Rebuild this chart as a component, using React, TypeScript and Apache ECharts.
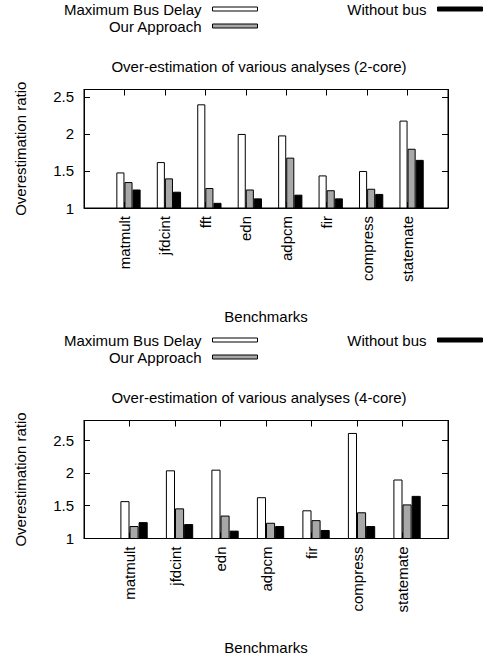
import React, { useEffect, useRef } from 'react';
import * as echarts from 'echarts';

// ---- data ----
const categories2core = ['matmult', 'jfdcint', 'fft', 'edn', 'adpcm', 'fir', 'compress', 'statemate'];
const maxBusDelay2core = [1.48, 1.62, 2.40, 2.00, 1.98, 1.44, 1.50, 2.18];
const ourApproach2core = [1.35, 1.40, 1.27, 1.25, 1.68, 1.24, 1.26, 1.80];
const withoutBus2core = [1.25, 1.22, 1.07, 1.13, 1.18, 1.13, 1.19, 1.65];

const categories4core = ['matmult', 'jfdcint', 'edn', 'adpcm', 'fir', 'compress', 'statemate'];
const maxBusDelay4core = [1.57, 2.04, 2.05, 1.63, 1.43, 2.61, 1.90];
const ourApproach4core = [1.19, 1.46, 1.35, 1.24, 1.28, 1.40, 1.52];
const withoutBus4core = [1.25, 1.22, 1.12, 1.19, 1.13, 1.19, 1.65];

const yTicks = [1, 1.5, 2, 2.5];

const seriesNames = ['Maximum Bus Delay', 'Our Approach', 'Without bus'];
const seriesColors = ['#ffffff', '#a8a8a8', '#000000'];

const titles = [
  'Over-estimation of various analyses (2-core)',
  'Over-estimation of various analyses (4-core)',
];

const FONT = '"Liberation Sans", Arial, Helvetica, sans-serif';
const W = 487;
const H = 658;

function pad<T>(arr: T[], v: any): any[] {
  return [v, ...arr, v];
}

function buildOption() {
  const panels = [
    { cats: categories2core, vals: [maxBusDelay2core, ourApproach2core, withoutBus2core], yMax: 2.6, top: 89.5, height: 118.5, off: 0 },
    { cats: categories4core, vals: [maxBusDelay4core, ourApproach4core, withoutBus4core], yMax: 2.8, top: 420.5, height: 118, off: 331 },
  ];

  const grid: any[] = [];
  const xAxis: any[] = [];
  const yAxis: any[] = [];
  const series: any[] = [];
  const legend: any[] = [];
  const title: any[] = [];

  const txt = { color: '#000', fontSize: 15, fontFamily: FONT };
  const tick = { show: true, inside: true, length: 6, lineStyle: { color: '#000', width: 1 } };
  const line = { show: true, lineStyle: { color: '#000', width: 1 } };
  const yFmt = (v: number) => (yTicks.some((t) => Math.abs(t - v) < 1e-9) ? String(v) : '');

  panels.forEach((p, i) => {
    grid.push({ left: 84, top: p.top, width: 364, height: p.height, show: true, borderColor: '#000', borderWidth: 1, backgroundColor: 'transparent' });
    const data = pad(p.cats, '');
    xAxis.push({
      type: 'category', gridIndex: i, position: 'bottom', data, boundaryGap: false,
      axisLine: line, axisTick: { ...tick, interval: 0 },
      axisLabel: { ...txt, rotate: 90, interval: 0, margin: 8 },
      splitLine: { show: false },
      name: 'Benchmarks', nameLocation: 'middle', nameGap: 101, nameTextStyle: txt,
    });
    xAxis.push({
      type: 'category', gridIndex: i, position: 'top', data, boundaryGap: false,
      axisLine: line, axisTick: { ...tick, interval: 0 }, axisLabel: { show: false }, splitLine: { show: false },
    });
    yAxis.push({
      type: 'value', gridIndex: i, position: 'left', min: 1, max: p.yMax, interval: 0.5,
      axisLine: line, axisTick: tick, axisLabel: { ...txt, margin: 10, formatter: yFmt },
      splitLine: { show: false },
      name: 'Overestimation ratio', nameLocation: 'middle', nameGap: 56, nameTextStyle: txt,
    });
    yAxis.push({
      type: 'value', gridIndex: i, position: 'right', min: 1, max: p.yMax, interval: 0.5,
      axisLine: line, axisTick: tick, axisLabel: { show: false }, splitLine: { show: false },
    });
    // spacer series (empty first slot of each group, as in the original histogram)
    series.push({
      type: 'bar', name: 'spacer' + i, xAxisIndex: i * 2, yAxisIndex: i * 2,
      data: pad(p.cats.map(() => null), null), barGap: '0%', barCategoryGap: '20%', silent: true,
    });
    p.vals.forEach((vals, k) => {
      series.push({
        type: 'bar', name: seriesNames[k], xAxisIndex: i * 2, yAxisIndex: i * 2,
        data: pad(vals, null), barGap: '0%', barCategoryGap: '20%',
        itemStyle: { color: seriesColors[k], borderColor: '#000', borderWidth: 1 },
        silent: true,
      });
    });
    const legendCommon = {
      orient: 'vertical', align: 'right', padding: 0, itemGap: 2, itemWidth: 45, itemHeight: 4,
      icon: 'rect', selectedMode: false,
      textStyle: { ...txt, lineHeight: 15, padding: [0, 6, 0, 0] },
      itemStyle: { borderColor: '#000', borderWidth: 1 },
    };
    legend.push({ ...legendCommon, right: 229, top: 1.5 + p.off, data: [seriesNames[0], seriesNames[1]] });
    legend.push({ ...legendCommon, right: 4, top: 1.5 + p.off, data: [seriesNames[2]] });
    title.push({
      text: titles[i], left: 259, top: 59 + p.off, textAlign: 'center', padding: 0,
      textStyle: { ...txt, fontWeight: 'normal' },
    });
  });

  return { animation: false, backgroundColor: '#fff', grid, xAxis, yAxis, series, legend, title };
}

export default function App() {
  const ref = useRef<HTMLDivElement>(null);
  useEffect(() => {
    if (!ref.current) return;
    const chart = echarts.init(ref.current, undefined, { renderer: 'svg', width: W, height: H });
    chart.setOption(buildOption() as any);
    return () => chart.dispose();
  }, []);
  return <div ref={ref} style={{ position: 'fixed', left: 0, top: 0, width: W, height: H, background: '#fff' }} />;
}
